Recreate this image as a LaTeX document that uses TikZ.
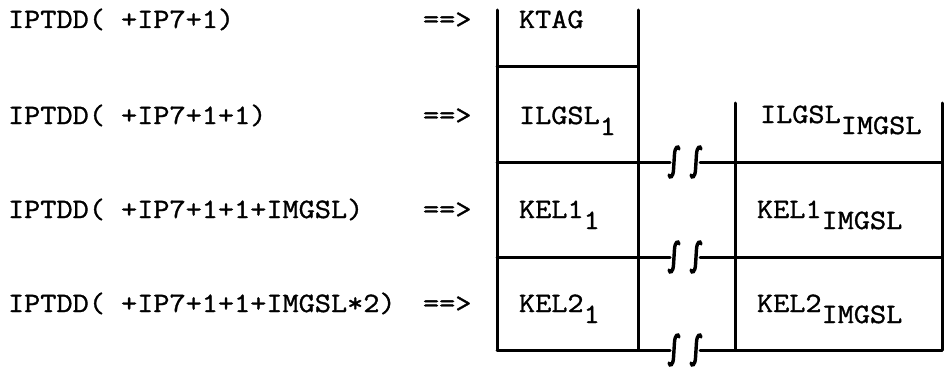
\documentclass[tikz,border=0pt]{standalone}
\usepackage{fontspec}
\setmonofont{Latin Modern Mono}[FakeStretch=1.12,FakeBold=1.2]
\begin{document}
\begin{tikzpicture}[x=1pt,y=-1pt,
  every node/.style={inner sep=0pt,outer sep=0pt,font=\ttfamily\fontsize{28}{30}\selectfont},
  txt/.style={anchor=base west},
  wall/.style={line width=3pt,line cap=round},
  brk/.style={line width=3.4pt,line cap=round}]
\useasboundingbox (0,0) rectangle (950,369);
% address expressions and arrows
\foreach \n/\yb/\t in {a/28/{IPTDD( +IP7+1)},b/124/{IPTDD( +IP7+1+1)},c/218/{IPTDD( +IP7+1+1+IMGSL)},d/312/{IPTDD( +IP7+1+1+IMGSL*2)}}{
  \node[txt] (lab\n) at (8,\yb) {\t};
  \node[txt] (arr\n) at (423,\yb) {==>};
}
% cell contents
\node[txt] (ktag) at (519,28) {KTAG};
\node[txt] (ilg1) at (519,124) {ILGSL\raisebox{-11pt}{1}};
\node[txt] (kea1) at (519,218) {KEL1\raisebox{-11pt}{1}};
\node[txt] (keb1) at (519,312) {KEL2\raisebox{-11pt}{1}};
\node[txt] (ilgn) at (760,123) {ILGSL\raisebox{-11pt}{IMGSL}};
\node[txt] (kean) at (757,218) {KEL1\raisebox{-11pt}{IMGSL}};
\node[txt] (kebn) at (757,312) {KEL2\raisebox{-11pt}{IMGSL}};
% cell walls
\draw[wall] (497,10) -- (497,350);
\draw[wall] (638,10) -- (638,350);
\draw[wall] (497,67) -- (638,67);
\draw[wall] (735,103) -- (735,350);
\draw[wall] (942,103) -- (942,350);
% row separators, interrupted by break marks
\foreach \y in {162,257,350}{
  \draw[wall] (497,\y) -- (670,\y);
  \draw[wall] (700,\y) -- (942,\y);
  \foreach \x in {674,696}{
    \draw[brk] (\x-5,\y+13) .. controls (\x-4,\y+17) and (\x-1,\y+15) .. (\x-0.5,\y+8)
      -- (\x+0.5,\y-8) .. controls (\x+1,\y-15) and (\x+4,\y-17) .. (\x+5,\y-13);
  }
}
\end{tikzpicture}
\end{document}
